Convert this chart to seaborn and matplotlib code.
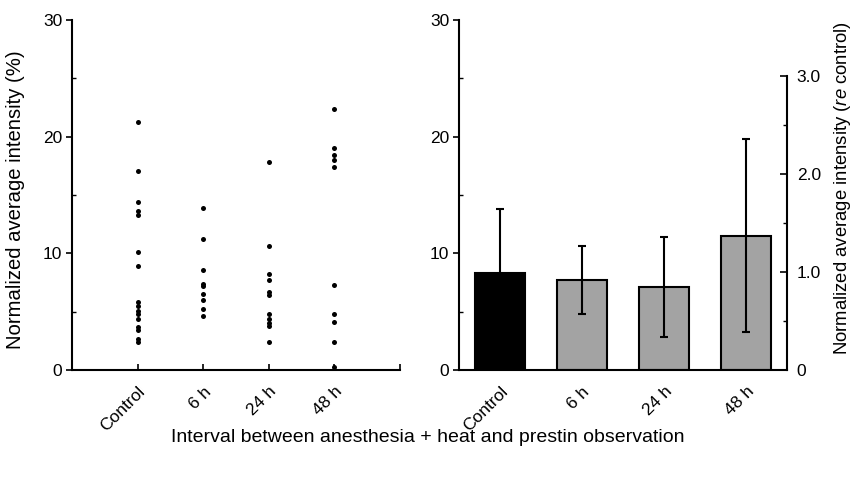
import numpy as np
import pandas as pd
import matplotlib
matplotlib.use("Agg")
import matplotlib.pyplot as plt
import matplotlib.transforms as mtransforms
import seaborn as sns
from matplotlib.ticker import FixedLocator

sns.set_style("ticks")
plt.rcParams['font.family'] = ['Liberation Sans', 'DejaVu Sans']
plt.rcParams['mathtext.fontset'] = 'custom'
plt.rcParams['mathtext.rm'] = 'Liberation Sans'
plt.rcParams['mathtext.it'] = 'Liberation Sans:italic'
for k in ['text.color', 'axes.labelcolor', 'xtick.color', 'ytick.color', 'axes.edgecolor']:
    plt.rcParams[k] = 'black'

# ---- data ----
categories = ["Control", "6 h", "24 h", "48 h"]
control_pts = [21.3, 17.1, 14.4, 13.6, 13.3, 10.1, 8.9, 5.8, 5.5, 5.1, 4.8, 4.4, 3.7, 3.4, 2.7, 2.4]
h6_pts = [13.9, 11.2, 8.6, 7.4, 7.2, 6.5, 6.0, 5.2, 4.6]
h24_pts = [17.8, 10.6, 8.2, 7.7, 6.7, 6.4, 4.8, 4.4, 4.0, 3.8, 2.4]
h48_pts = [22.4, 19.0, 18.4, 18.0, 17.4, 7.3, 4.8, 4.1, 2.4, 0.3]
bar_means = [8.34, 7.71, 7.14, 11.51]
bar_errs = [5.5, 2.9, 4.3, 8.25]
bar_colors = ["#000000", "#a3a3a3", "#a3a3a3", "#a3a3a3"]
left_ticks = [0, 10, 20, 30]
right_ticks = [0, 1.0, 2.0, 3.0]
right_ticklabels = ["0", "1.0", "2.0", "3.0"]
ratio = 8.4  # left units per right unit

pts_df = pd.DataFrame({
    "group": sum([[c] * len(v) for c, v in zip(categories, [control_pts, h6_pts, h24_pts, h48_pts])], []),
    "value": control_pts + h6_pts + h24_pts + h48_pts,
})
bar_df = pd.DataFrame({"group": categories, "mean": bar_means, "err": bar_errs})

W, H = 855, 484
fig = plt.figure(figsize=(W / 100, H / 100), dpi=100)
ax1 = fig.add_axes([72 / W, 1 - 370 / H, 328 / W, 350 / H])
ax2 = fig.add_axes([459 / W, 1 - 370 / H, 328 / W, 350 / H])

fs = 14
tfs = 12.5

# ---- left: dot plot ----
sns.stripplot(data=pts_df, x="group", y="value", order=categories, jitter=False,
              color="black", size=3.6, linewidth=0, ax=ax1)
ax1.set_xlim(-1, 4)
ax1.set_ylim(0, 30)
ax1.set_xlabel("")
ax1.set_ylabel("Normalized average intensity (%)", fontsize=14.6)
ax1.yaxis.set_label_coords(-0.142, 0.486)
ax1.set_yticks(left_ticks)
ax1.yaxis.set_minor_locator(FixedLocator([5, 15, 25]))
ax1.set_xticks(list(range(4)) + [4])
ax1.set_xticklabels(categories + [""])
sns.despine(ax=ax1)

# ---- right: bar plot ----
sns.barplot(data=bar_df, x="group", y="mean", order=categories, hue="group",
            palette=bar_colors, legend=False, width=0.62, errorbar=None,
            edgecolor="black", linewidth=1.5, saturation=1, ax=ax2)
ax2.errorbar(range(len(categories)), bar_means, yerr=bar_errs, fmt="none",
             ecolor="black", elinewidth=1.5, capsize=3, capthick=1.5, zorder=5)
ax2.set_xlim(-0.5, 3.5)
ax2.set_ylim(0, 30)
ax2.set_xlabel("")
ax2.set_ylabel("")
ax2.set_yticks(left_ticks)
ax2.yaxis.set_minor_locator(FixedLocator([5, 15, 25]))
ax2.set_xticks(range(4))
ax2.set_xticklabels(categories)
ax2.tick_params(axis="x", length=0)
sns.despine(ax=ax2)

ax3 = ax2.twinx()
ax3.set_ylim(0, 30 / ratio)
ax3.set_yticks(right_ticks)
ax3.set_yticklabels(right_ticklabels)
ax3.yaxis.set_minor_locator(FixedLocator([0.5, 1.5, 2.5]))
for s in ["top", "left", "bottom"]:
    ax3.spines[s].set_visible(False)
ax3.spines["right"].set_bounds(0, 3.0)
ax3.spines["right"].set_linewidth(1.5)
ax3.set_ylabel(r"Normalized average intensity ($\it{re}$ control)", fontsize=13.3)
ax3.yaxis.set_label_coords(1.137, 0.52)
ax3.tick_params(axis="y", which="major", direction="in", length=5, width=1.2, labelsize=tfs, pad=7)
ax3.tick_params(axis="y", which="minor", direction="in", length=3, width=1)

shift = mtransforms.ScaledTranslation(6 / 100, 0, fig.dpi_scale_trans)
for ax in (ax1, ax2):
    for s in ["left", "bottom"]:
        ax.spines[s].set_linewidth(1.5)
    ax.tick_params(axis="y", which="major", direction="out", length=4, width=1.2, labelsize=tfs, pad=3)
    ax.tick_params(axis="y", which="minor", direction="in", length=3, width=1)
    ax.tick_params(axis="x", labelsize=tfs)
    for lab in ax.get_xticklabels():
        lab.set_rotation(45)
        lab.set_ha("right")
        lab.set_rotation_mode("anchor")
        lab.set_transform(lab.get_transform() + shift)
ax1.tick_params(axis="x", direction="in", length=4, width=1.2, pad=10)
ax2.tick_params(axis="x", pad=10)

fig.text(0.5, 1 - 438 / H, "Interval between anesthesia + heat and prestin observation",
         ha="center", va="center", fontsize=fs)

fig.savefig("out.png", dpi=100)
